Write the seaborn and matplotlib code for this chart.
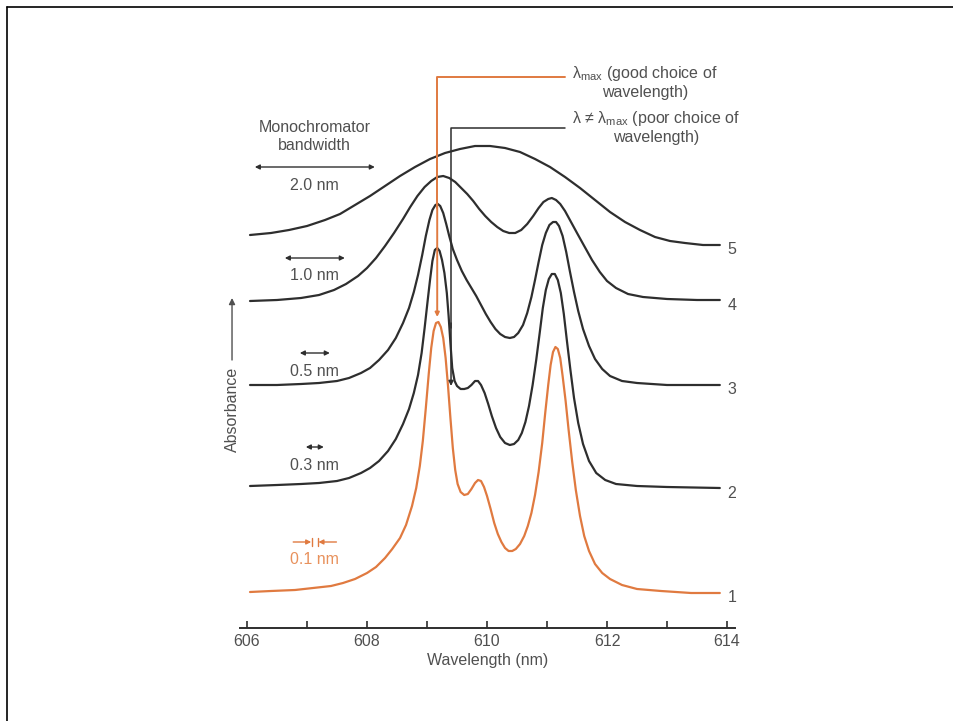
import matplotlib
matplotlib.use("Agg")
import matplotlib.pyplot as plt
import seaborn as sns
from matplotlib.lines import Line2D

# spectra: wavelength (nm) and offset absorbance (arbitrary units)
wl_1 = [606.05, 606.40, 606.80, 607.10, 607.40, 607.60, 607.80, 608.00, 608.15, 608.30,
        608.42, 608.55, 608.65, 608.75, 608.82, 608.88, 608.93, 608.98, 609.03, 609.07,
        609.11, 609.15, 609.19, 609.23, 609.27, 609.31, 609.35, 609.39, 609.43, 609.47,
        609.51, 609.56, 609.62, 609.68, 609.74, 609.80, 609.85, 609.90, 609.95, 610.00,
        610.06, 610.12, 610.18, 610.24, 610.30, 610.36, 610.42, 610.48, 610.55, 610.62,
        610.68, 610.74, 610.80, 610.86, 610.92, 610.97, 611.02, 611.06, 611.10, 611.14,
        611.18, 611.22, 611.26, 611.31, 611.36, 611.42, 611.48, 611.55, 611.62, 611.70,
        611.80, 611.92, 612.05, 612.25, 612.50, 612.90, 613.40, 613.88]
abs_1 = [36, 37, 38, 40, 42, 45, 49, 55, 61, 70,
         79, 90, 103, 122, 140, 162, 187, 220, 255, 280,
         297, 305, 306, 301, 290, 270, 242, 210, 180, 158,
         144, 136, 133, 134, 139, 145, 148, 147, 141, 132,
         119, 105, 94, 86, 80, 77, 77, 79, 84, 92,
         102, 115, 133, 156, 185, 215, 243, 263, 276, 281,
         279, 270, 252, 227, 198, 166, 138, 112, 92, 77,
         64, 55, 49, 43, 39, 37, 35, 35]

wl_2 = [606.05, 606.50, 606.90, 607.20, 607.50, 607.70, 607.90, 608.05, 608.20, 608.35,
        608.48, 608.60, 608.70, 608.78, 608.85, 608.91, 608.96, 609.01, 609.05, 609.09,
        609.13, 609.17, 609.21, 609.25, 609.29, 609.33, 609.36, 609.39, 609.42, 609.46,
        609.50, 609.56, 609.62, 609.68, 609.74, 609.80, 609.85, 609.90, 609.96, 610.02,
        610.08, 610.15, 610.22, 610.30, 610.38, 610.45, 610.52, 610.58, 610.64, 610.70,
        610.76, 610.82, 610.88, 610.93, 610.98, 611.03, 611.08, 611.13, 611.18, 611.23,
        611.28, 611.33, 611.39, 611.45, 611.52, 611.60, 611.70, 611.82, 611.97, 612.15,
        612.50, 613.00, 613.88]
abs_2 = [142, 143, 144, 145, 147, 150, 155, 160, 167, 177,
         189, 204, 219, 235, 253, 275, 300, 327, 348, 367,
         378, 380, 377, 368, 355, 335, 312, 285, 260, 247,
         242, 239, 239, 240, 243, 247, 247, 243, 235, 224,
         212, 200, 191, 185, 183, 184, 188, 195, 206, 222,
         243, 268, 296, 320, 338, 349, 354, 354, 348, 335,
         314, 288, 258, 230, 205, 184, 167, 155, 148, 144,
         142, 141, 140]

wl_3 = [606.05, 606.50, 606.90, 607.20, 607.50, 607.70, 607.90, 608.05, 608.20, 608.35,
        608.48, 608.60, 608.70, 608.78, 608.85, 608.92, 608.98, 609.04, 609.09, 609.14,
        609.18, 609.22, 609.27, 609.32, 609.37, 609.43, 609.50, 609.58, 609.66, 609.74,
        609.82, 609.90, 609.98, 610.06, 610.14, 610.22, 610.30, 610.38, 610.45, 610.52,
        610.60, 610.67, 610.74, 610.80, 610.86, 610.92, 610.98, 611.04, 611.10, 611.15,
        611.20, 611.26, 611.32, 611.38, 611.45, 611.52, 611.60, 611.70, 611.80, 611.92,
        612.05, 612.25, 612.50, 613.00, 613.88]
abs_3 = [243, 243, 244, 245, 247, 250, 255, 260, 268, 278,
         290, 305, 320, 336, 353, 373, 392, 408, 418, 423,
         424, 422, 415, 404, 392, 379, 368, 357, 348, 340,
         332, 323, 314, 306, 299, 294, 291, 290, 291, 295,
         303, 315, 331, 348, 366, 383, 395, 403, 406, 406,
         402, 392, 376, 357, 336, 317, 299, 282, 269, 259,
         252, 247, 245, 243, 243]

wl_4 = [606.05, 606.50, 606.90, 607.20, 607.45, 607.65, 607.85, 608.00, 608.15, 608.30,
        608.45, 608.60, 608.72, 608.84, 608.96, 609.07, 609.17, 609.27, 609.37, 609.47,
        609.57, 609.67, 609.77, 609.87, 609.97, 610.07, 610.17, 610.27, 610.37, 610.47,
        610.57, 610.67, 610.77, 610.86, 610.94, 611.02, 611.08, 611.15, 611.22, 611.30,
        611.40, 611.50, 611.62, 611.75, 611.88, 612.00, 612.15, 612.35, 612.60, 613.00,
        613.50, 613.88]
abs_4 = [327, 328, 330, 333, 338, 344, 352, 360, 370, 382,
         395, 409, 421, 432, 441, 447, 451, 452, 450, 446,
         440, 434, 427, 419, 412, 406, 401, 397, 395, 395,
         398, 404, 412, 420, 426, 429, 430, 428, 424, 417,
         406, 395, 382, 368, 356, 347, 340, 334, 331, 329,
         328, 328]

wl_5 = [606.05, 606.40, 606.70, 607.00, 607.30, 607.55, 607.80, 608.05, 608.30, 608.55,
        608.80, 609.05, 609.30, 609.55, 609.80, 610.05, 610.30, 610.55, 610.80, 611.05,
        611.30, 611.55, 611.80, 612.05, 612.30, 612.55, 612.80, 613.05, 613.30, 613.60,
        613.88]
abs_5 = [393, 395, 398, 402, 408, 414, 423, 432, 442, 452,
         461, 469, 475, 479, 482, 482, 480, 476, 469, 461,
         451, 440, 428, 416, 406, 398, 391, 387, 385, 383,
         383]

spectra = [(wl_1, abs_1), (wl_2, abs_2), (wl_3, abs_3), (wl_4, abs_4), (wl_5, abs_5)]
curve_labels = ["1", "2", "3", "4", "5"]
bandwidths = [0.1, 0.3, 0.5, 1.0, 2.0]
bandwidth_labels = ["0.1 nm", "0.3 nm", "0.5 nm", "1.0 nm", "2.0 nm"]
lambda_good = 609.17
lambda_poor = 609.40
tick_values = [606, 607, 608, 609, 610, 611, 612, 613, 614]
tick_labels = ["606", "", "608", "", "610", "", "612", "", "614"]

sns.set_theme(style="white")
plt.rcParams["font.family"] = ["Liberation Sans", "DejaVu Sans"]
plt.rcParams["mathtext.fontset"] = "custom"
plt.rcParams["mathtext.rm"] = "Liberation Sans"
plt.rcParams["mathtext.default"] = "regular"

dark = "#2e2e2e"
grey = "#505050"
orange = "#E07A40"
orange_txt = "#E8915C"
fs = 11.5

fig = plt.figure(figsize=(9.54, 7.21), dpi=100)
ax = fig.add_axes([240 / 954, 93 / 721, 495 / 954, 588 / 721])

for i, (wl, ab) in enumerate(spectra):
    color = orange if i == 0 else dark
    sns.lineplot(x=wl, y=ab, ax=ax, color=color, linewidth=1.6, sort=False,
                 estimator=None, solid_joinstyle="round")
    ax.text(wl[-1] + 0.13, ab[-1] - 5, curve_labels[i], fontsize=fs, color=grey,
            ha="left", va="center")

ax.set_xlim(605.883, 614.133)
ax.set_ylim(0, 588)
ax.set_xticks(tick_values)
ax.set_xticklabels(tick_labels)
ax.set_yticks([])
ax.tick_params(axis="x", bottom=True, direction="in", length=5, width=1.2, colors=dark,
               labelcolor=grey, labelsize=fs, pad=4)
for s in ["left", "top", "right"]:
    ax.spines[s].set_visible(False)
ax.spines["bottom"].set_linewidth(1.4)
ax.spines["bottom"].set_color(dark)
ax.set_xlabel("Wavelength (nm)", fontsize=fs, color=grey, labelpad=3)

# absorbance label with arrow
ax.text(605.75, 219, "Absorbance", rotation=90, fontsize=fs, color=grey,
        ha="center", va="center", clip_on=False)
ax.annotate("", xy=(605.75, 330), xytext=(605.75, 268), annotation_clip=False,
            arrowprops=dict(arrowstyle="-|>", color=grey, lw=1.0, mutation_scale=9,
                            shrinkA=0, shrinkB=0))

# monochromator bandwidth markers
center = 607.13
ax.text(center, 491, "Monochromator\nbandwidth", fontsize=fs, color=grey,
        ha="center", va="center", linespacing=1.25)
arrow_y = [86, 181, 275, 370, 461]
for bw, lab, yy in zip(bandwidths, bandwidth_labels, arrow_y):
    if bw == 0.1:
        c = orange
        for side in (-1, 1):
            ax.plot([center + side * bw / 2] * 2, [yy - 4, yy + 4], color=c, lw=1.0)
            ax.annotate("", xy=(center + side * 0.06, yy), xytext=(center + side * 0.36, yy),
                        arrowprops=dict(arrowstyle="-|>", color=c, lw=1.0, mutation_scale=7,
                                        shrinkA=0, shrinkB=0))
        ax.text(center, yy - 18, lab, fontsize=fs, color=orange_txt, ha="center", va="center")
    else:
        ax.annotate("", xy=(center + bw / 2, yy), xytext=(center - bw / 2, yy),
                    arrowprops=dict(arrowstyle="<|-|>", color=dark, lw=1.0, mutation_scale=7,
                                    shrinkA=0, shrinkB=0))
        ax.text(center, yy - 18, lab, fontsize=fs, color=grey, ha="center", va="center")

# wavelength choice markers
ax.plot([lambda_good, lambda_good, 611.3], [420, 551, 551], color=orange, lw=1.4)
ax.annotate("", xy=(lambda_good, 311), xytext=(lambda_good, 425),
            arrowprops=dict(arrowstyle="-|>", color=orange, lw=1.4, mutation_scale=6,
                            shrinkA=0, shrinkB=0))
ax.plot([lambda_poor, lambda_poor, 611.3], [300, 500, 500], color=dark, lw=1.1)
ax.annotate("", xy=(lambda_poor, 242), xytext=(lambda_poor, 305),
            arrowprops=dict(arrowstyle="-|>", color=dark, lw=1.1, mutation_scale=7,
                            shrinkA=0, shrinkB=0))
ax.text(611.42, 546, "λ$_{max}$ (good choice of\nwavelength)", fontsize=fs, color=grey,
        ha="left", va="center", multialignment="center", linespacing=1.1)
ax.text(611.42, 501, "λ ≠ λ$_{max}$ (poor choice of\nwavelength)", fontsize=fs, color=grey,
        ha="left", va="center", multialignment="center", linespacing=1.1)

# page frame (top and left edges)
fig.add_artist(Line2D([7 / 954, 1], [1 - 7 / 721, 1 - 7 / 721], transform=fig.transFigure,
                      color="black", lw=1.2))
fig.add_artist(Line2D([7 / 954, 7 / 954], [0, 1 - 7 / 721], transform=fig.transFigure,
                      color="black", lw=1.2))

fig.savefig("out.png", dpi=100, facecolor="white")
